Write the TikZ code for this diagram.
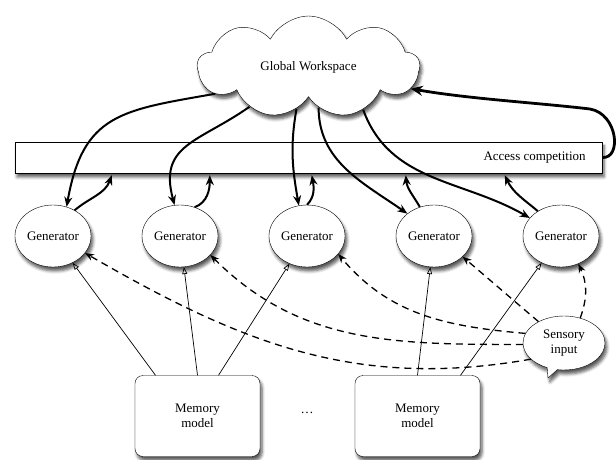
\documentclass[tikz,border=0pt]{standalone}
\usepackage{fontspec}
\setmainfont{Liberation Serif}
\usetikzlibrary{shapes.symbols,shapes.callouts,shapes.geometric,arrows.meta,positioning,shadows.blur}

\begin{document}
\begin{tikzpicture}[x=1pt,y=1pt,
  font=\fontsize{13}{15.5}\selectfont,
  dropshade/.style={blur shadow={shadow xshift=2pt,shadow yshift=-4pt,shadow blur steps=5,shadow blur radius=3pt,shadow opacity=65}},
  gen/.style={ellipse,draw,fill=white,minimum width=76pt,minimum height=62pt,inner sep=0pt,dropshade},
  memory/.style={rectangle,rounded corners=8pt,draw,fill=white,minimum width=125pt,minimum height=81pt,align=center,dropshade},
  flow/.style={line width=2pt,-{Stealth[length=10pt,width=8pt]}},
  feed/.style={line width=0.7pt,-{Triangle[open,length=7pt,width=5pt]}},
  sensed/.style={line width=1.3pt,dash pattern=on 7pt off 5pt,-{Stealth[length=9pt,width=7pt]}}]
  \useasboundingbox (0,0) rectangle (616,459);
  % Defining the nodes
  \node[cloud,draw,fill=white,cloud puffs=9,cloud puff arc=125,cloud ignores aspect,
        minimum width=222pt,minimum height=102pt,dropshade] (gw) at (308.5,392) {Global Workspace};
  \node[rectangle,draw,fill=white,minimum width=587pt,minimum height=31pt,dropshade] (bar) at (308.5,301.5) {};
  \node[left=13pt of bar.east] (access) {Access competition};
  \foreach \i/\x in {1/53,2/180,3/307,4/434,5/561}
    \node[gen] (g\i) at (\x,223) {Generator};
  \node[memory] (m1) at (197.5,43) {Memory\\model};
  \node[memory] (m2) at (417.5,43) {Memory\\model};
  \node (dots) at (307,46) {\dots};
  \node[ellipse callout,draw,fill=white,minimum width=82pt,minimum height=54pt,align=center,inner sep=1pt,
        callout absolute pointer={(548,81)},dropshade] (sense) at (564,116) {Sensory\\input};
  % Points under the bar
  \foreach \i/\s in {1/97,2/195,3/297,4/391,5/490}
    \coordinate (b\i) at ([shift={(\s,-2)}]bar.south west);
  % Workspace to generators
  \draw[flow] (gw.196) to[out=190,in=80,looseness=1.3] (g1.65);
  \draw[flow] (gw.214) to[out=215,in=105,looseness=1.3] (g2.100);
  \draw[flow] (gw.254) to[out=260,in=100] (g3.105);
  \draw[flow] (gw.284) to[out=270,in=145] (g4.140);
  \draw[flow] (gw.322) to[out=290,in=150] (g5.150);
  % Generators to the competition
  \draw[flow] (g1.50) to[out=40,in=-110] (b1);
  \draw[flow] (g2.63) to[out=20,in=-90] (b2);
  \draw[flow] (g3.90) to[out=45,in=-80] (b3);
  \draw[flow] (g4.116) to[out=120,in=-85] (b4);
  \draw[flow] (g5.133) to[out=140,in=-65] (b5);
  % Competition back to the workspace
  \draw[line width=2.8pt,-{Stealth[length=12pt,width=10pt]}] (bar.east)
    .. controls (622,300) and (618,345) .. (590,350)
    .. controls (540,356) and (470,360) .. (gw.-12);
  % Memory models
  \draw[feed] ([xshift=-42pt]m1.north) -- (g1);
  \draw[feed] (m1.north) -- (g2);
  \draw[feed] ([xshift=21pt]m1.north) -- (g3);
  \draw[feed] (m2.north) -- (g4);
  \draw[feed] ([xshift=43pt]m2.north) -- (g5);
  % Sensory input
  \draw[sensed] (sense.206) to[out=190,in=-30] (g1.-28);
  \draw[sensed] (sense.182) to[out=180,in=-45] (g2.-32);
  \draw[sensed] (sense.166) to[out=175,in=-50] (g3.-30);
  \draw[sensed] (sense.140) to[out=140,in=-40,looseness=0.5] (g4.-36);
  \draw[sensed] (sense.57) to[out=70,in=-65] (g5.-58);
\end{tikzpicture}
\end{document}
